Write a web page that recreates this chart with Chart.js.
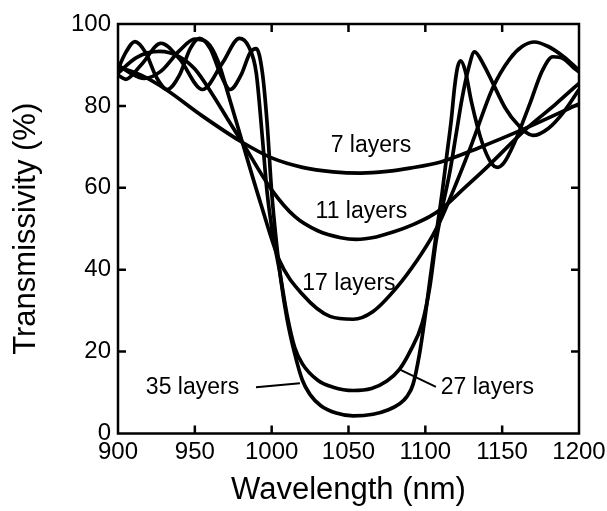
<!DOCTYPE html>
<html><head><meta charset="utf-8">
<script src="https://cdn.jsdelivr.net/npm/chart.js@4/dist/chart.umd.min.js"></script>
<style>html,body{margin:0;padding:0;background:#fff;overflow:hidden}</style>
</head><body>
<canvas id="c" width="607" height="511"></canvas>
<script>
// ---- data (wavelength in nm, transmissivity in %) ----
const wl7  = [900, 915, 930, 955, 980, 1000, 1020, 1040, 1058, 1075, 1090, 1110, 1135, 1165, 1200];
const t7   = [89.5, 87.5, 84.3, 77.5, 71.3, 67.3, 65.0, 63.9, 63.6, 64.0, 64.8, 66.3, 69.8, 74.5, 80.5];

const wl11 = [900, 912, 927, 940, 950, 962, 971, 981, 1000, 1015, 1030, 1045, 1055, 1068, 1080, 1092, 1103, 1111, 1125, 1140, 1166, 1185, 1200];
const t11  = [88.0, 91.8, 93.3, 92.0, 89.0, 82.5, 77.0, 71.0, 59.5, 53.0, 49.5, 47.8, 47.4, 48.0, 49.3, 51.0, 53.0, 55.0, 59.8, 65.0, 74.5, 80.5, 85.5];

const wl17 = [900, 908, 917, 928, 940, 950, 958, 965, 972, 981, 993, 1005, 1020, 1038, 1053, 1066, 1081, 1095, 1105, 1111, 1120, 1130, 1144, 1155, 1163, 1171, 1180, 1190, 1200];
const t17  = [90.0, 88.0, 86.7, 88.5, 93.5, 96.3, 95.5, 91.0, 82.5, 71.0, 56.0, 42.3, 34.0, 28.6, 27.9, 29.8, 35.5, 42.5, 48.5, 53.0, 61.0, 70.5, 84.5, 91.5, 94.5, 95.6, 94.5, 92.0, 88.7];

const wl27 = [900, 905, 915, 928, 940, 955, 968, 979, 985, 990, 994, 997, 1001, 1005, 1010, 1015, 1020, 1030, 1040, 1053, 1065, 1075, 1083, 1090, 1098, 1103, 1107, 1111, 1116, 1120, 1124, 1128, 1132, 1138, 1144, 1152, 1160, 1170, 1180, 1190, 1200];
const t27  = [87.5, 86.5, 90.0, 95.3, 91.5, 84.0, 90.5, 96.5, 94.5, 88.0, 72.0, 59.0, 48.0, 40.0, 29.0, 21.0, 17.0, 13.0, 11.3, 10.5, 11.0, 12.8, 15.6, 20.0, 27.0, 36.0, 47.0, 55.0, 64.0, 73.0, 82.0, 89.0, 93.2, 90.0, 85.5, 79.5, 75.5, 72.8, 74.5, 78.5, 84.0];

const wl35 = [900, 905, 911, 918, 925, 932, 940, 947, 953, 960, 967, 973, 980, 986, 990, 994, 997, 1000, 1003, 1006, 1010, 1015, 1020, 1025, 1032, 1042, 1053, 1066, 1076, 1083, 1088, 1092, 1096, 1100, 1103, 1107, 1111, 1114, 1117, 1119, 1121, 1123, 1126, 1130, 1137, 1143, 1147, 1151, 1158, 1168, 1176, 1183, 1190, 1196, 1200];
const t35  = [89.0, 93.0, 95.7, 93.0, 87.0, 84.0, 87.5, 94.0, 96.5, 94.0, 87.5, 84.0, 87.5, 93.0, 94.0, 88.0, 76.0, 59.0, 47.0, 37.5, 28.0, 19.5, 13.0, 9.5, 6.8, 5.0, 4.3, 4.7, 5.8, 7.2, 9.0, 12.0, 19.0, 29.0, 37.5, 48.5, 59.0, 68.0, 77.0, 84.5, 89.5, 91.0, 88.5, 81.0, 71.0, 66.0, 65.0, 66.0, 71.0, 80.5, 88.5, 92.0, 91.5, 89.5, 88.3];

const seriesNames = ['7 layers', '11 layers', '17 layers', '27 layers', '35 layers'];
const seriesWl = [wl7, wl11, wl17, wl27, wl35];
const seriesT  = [t7, t11, t17, t27, t35];

const xTickValues = [900, 950, 1000, 1050, 1100, 1150, 1200];
const yTickValues = [0, 20, 40, 60, 80, 100];
const xTitle = 'Wavelength (nm)';
const yTitle = 'Transmissivity (%)';

// curve labels (data coordinates: wavelength, transmissivity at text baseline)
const labelText = ['7 layers', '11 layers', '17 layers', '35 layers', '27 layers'];
const labelWl   = [1064.6, 1058.4, 1050.3, 948.5, 1140.4];
const labelT    = [68.7, 52.6, 35.0, 9.7, 9.7];
// leader lines: [wl1, T1, wl2, T2]
const leaders = [[989.8, 11.3, 1018.4, 12.3], [1083.5, 15.6, 1106.9, 11.4]];

const FONT = "'Liberation Sans', Arial, sans-serif";

const framePlugin = {
  id: 'frame',
  afterDatasetsDraw(chart) {
    const {ctx, chartArea: a, scales: {x, y}} = chart;
    ctx.save();
    ctx.strokeStyle = '#000';
    ctx.lineWidth = 2.5;
    ctx.strokeRect(a.left, a.top, a.right - a.left, a.bottom - a.top);
    const len = 8;
    ctx.beginPath();
    x.ticks.forEach(t => {
      if (t.value <= x.min || t.value >= x.max) return;
      const px = x.getPixelForValue(t.value);
      ctx.moveTo(px, a.bottom); ctx.lineTo(px, a.bottom - len);
      ctx.moveTo(px, a.top); ctx.lineTo(px, a.top + len);
    });
    y.ticks.forEach(t => {
      if (t.value <= y.min || t.value >= y.max) return;
      const py = y.getPixelForValue(t.value);
      ctx.moveTo(a.left, py); ctx.lineTo(a.left + len, py);
      ctx.moveTo(a.right, py); ctx.lineTo(a.right - len, py);
    });
    ctx.stroke();
    // leader lines
    ctx.lineWidth = 2;
    ctx.beginPath();
    leaders.forEach(l => {
      ctx.moveTo(x.getPixelForValue(l[0]), y.getPixelForValue(l[1]));
      ctx.lineTo(x.getPixelForValue(l[2]), y.getPixelForValue(l[3]));
    });
    ctx.stroke();
    // labels
    ctx.fillStyle = '#000';
    ctx.font = '23px ' + FONT;
    ctx.textAlign = 'center';
    ctx.textBaseline = 'alphabetic';
    labelText.forEach((s, i) => {
      ctx.fillText(s, x.getPixelForValue(labelWl[i]), y.getPixelForValue(labelT[i]));
    });
    ctx.restore();
  }
};

const datasets = seriesNames.map((name, i) => ({
  label: name,
  data: seriesWl[i].map((w, k) => ({x: w, y: seriesT[i][k]})),
  borderColor: '#000',
  borderWidth: 3.7,
  pointRadius: 0,
  fill: false,
  cubicInterpolationMode: 'monotone'
}));

new Chart(document.getElementById('c'), {
  type: 'line',
  data: {datasets},
  options: {
    responsive: false,
    animation: false,
    devicePixelRatio: 1,
    layout: {padding: {left: 0, right: 28, top: 24, bottom: 0}},
    plugins: {legend: {display: false}, tooltip: {enabled: false}},
    scales: {
      x: {
        type: 'linear', min: 900, max: 1200,
        afterBuildTicks: s => { s.ticks = xTickValues.map(v => ({value: v})); },
        afterFit: s => { s.height = 77.5; s.paddingLeft = 0; s.paddingRight = 0; },
        grid: {display: false, drawTicks: false},
        border: {display: false},
        ticks: {color: '#000', padding: 4, maxRotation: 0, autoSkip: false, callback: v => String(v), font: {family: FONT, size: 24}},
        title: {display: true, text: xTitle, color: '#000', font: {family: FONT, size: 31}, padding: {top: 0, bottom: 2}}
      },
      y: {
        type: 'linear', min: 0, max: 100,
        afterBuildTicks: s => { s.ticks = yTickValues.map(v => ({value: v})); },
        afterFit: s => { s.width = 118; s.paddingTop = 0; s.paddingBottom = 0; },
        grid: {display: false, drawTicks: false},
        border: {display: false},
        ticks: {color: '#000', padding: 7, callback: v => String(v), font: {family: FONT, size: 24}},
        title: {display: true, text: yTitle, color: '#000', font: {family: FONT, size: 31}, padding: {top: 8, bottom: 0}}
      }
    }
  },
  plugins: [framePlugin]
});
</script>
</body></html>
